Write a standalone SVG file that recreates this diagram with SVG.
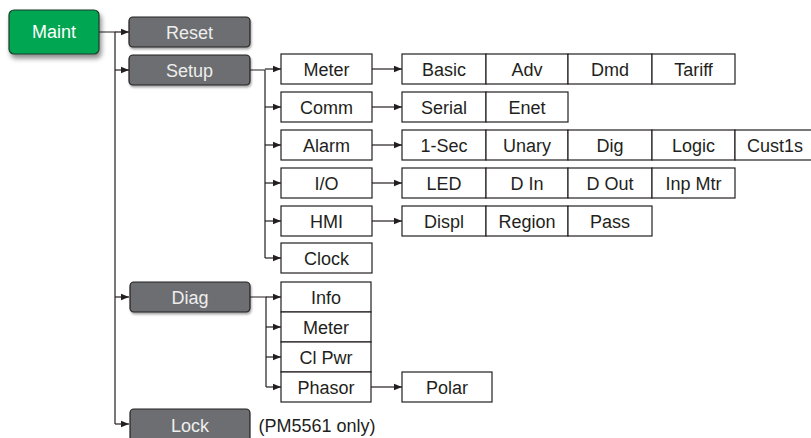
<svg xmlns="http://www.w3.org/2000/svg" width="811" height="438" viewBox="0 0 811 438">
<defs>
<marker id="ah" viewBox="0 0 8 8" refX="8" refY="4" markerWidth="8" markerHeight="8" markerUnits="userSpaceOnUse" orient="auto">
<path d="M0,0.8 L8,4 L0,7.2 Z" fill="#231f20"/>
</marker>
<filter id="sh" x="-20%" y="-20%" width="150%" height="160%">
<feGaussianBlur in="SourceAlpha" stdDeviation="2.5"/>
<feOffset dx="2" dy="4" result="b"/>
<feComponentTransfer><feFuncA type="linear" slope="0.45"/></feComponentTransfer>
<feMerge><feMergeNode/><feMergeNode in="SourceGraphic"/></feMerge>
</filter>
<filter id="sh2" x="-10%" y="-20%" width="130%" height="160%">
<feGaussianBlur in="SourceAlpha" stdDeviation="1.2"/>
<feOffset dx="1" dy="2"/>
<feComponentTransfer><feFuncA type="linear" slope="0.35"/></feComponentTransfer>
<feMerge><feMergeNode/><feMergeNode in="SourceGraphic"/></feMerge>
</filter>
</defs>
<style>
text{font-family:"Liberation Sans",Arial,sans-serif;font-size:18px;text-anchor:middle;fill:#231f20}
.w{fill:#ffffff}
.g{fill:#eeeeee}
.box{fill:#ffffff;stroke:#231f20;stroke-width:1.2}
.gray{fill:#6d6e71;stroke:#231f20;stroke-width:1.2}
.green{fill:#00a651;stroke:#1d3b2a;stroke-width:1.2}
.c{fill:none;stroke:#231f20;stroke-width:1.2}
.ca{fill:none;stroke:#231f20;stroke-width:1.2;marker-end:url(#ah)}
</style>
<rect width="811" height="438" fill="#ffffff"/>
<g id="connectors">
<path class="c" d="M99,32 H115 V424"/>
<path class="ca" d="M115,32 H129"/>
<path class="ca" d="M115,70 H129"/>
<path class="ca" d="M115,297 H129"/>
<path class="ca" d="M115,424 H129"/>
<path class="c" d="M250,70 H265 V258"/>
<path class="ca" d="M265,69 H281"/>
<path class="ca" d="M265,107 H281"/>
<path class="ca" d="M265,145 H281"/>
<path class="ca" d="M265,183 H281"/>
<path class="ca" d="M265,221 H281"/>
<path class="ca" d="M265,258 H281"/>
<path class="ca" d="M372,69 H402"/>
<path class="ca" d="M372,107 H402"/>
<path class="ca" d="M372,145 H402"/>
<path class="ca" d="M372,183 H402"/>
<path class="ca" d="M372,221 H402"/>
<path class="c" d="M250,297 H266 V387"/>
<path class="ca" d="M266,297 H281"/>
<path class="ca" d="M266,327 H281"/>
<path class="ca" d="M266,357 H281"/>
<path class="ca" d="M266,387 H281"/>
<path class="ca" d="M371,387 H402"/>
</g>
<g id="maint"><rect class="green" x="9" y="10" width="90" height="44" rx="5" filter="url(#sh)"/><text class="w" x="54" y="38">Maint</text></g>
<g id="reset"><rect class="gray" x="129" y="17" width="121" height="30" rx="4" filter="url(#sh2)"/><text class="g" x="189.5" y="39">Reset</text></g>
<g id="setup"><rect class="gray" x="129" y="55" width="121" height="30" rx="4" filter="url(#sh2)"/><text class="g" x="189.5" y="77">Setup</text></g>
<g id="diag"><rect class="gray" x="130" y="282" width="120" height="30" rx="4" filter="url(#sh2)"/><text class="g" x="190" y="304">Diag</text></g>
<g id="lock"><rect class="gray" x="130" y="409" width="120" height="34" rx="4"/><text class="g" x="190" y="432">Lock</text></g>
<g id="lock-note"><text x="317" y="432">(PM5561 only)</text></g>
<g id="s-meter"><rect class="box" x="281" y="54" width="91" height="30"/><text x="326.5" y="76">Meter</text></g>
<g id="s-comm"><rect class="box" x="281" y="92" width="91" height="30"/><text x="326.5" y="114">Comm</text></g>
<g id="s-alarm"><rect class="box" x="281" y="130" width="91" height="30"/><text x="326.5" y="152">Alarm</text></g>
<g id="s-io"><rect class="box" x="281" y="168" width="91" height="30"/><text x="326.5" y="190">I/O</text></g>
<g id="s-hmi"><rect class="box" x="281" y="206" width="91" height="30"/><text x="326.5" y="228">HMI</text></g>
<g id="s-clock"><rect class="box" x="281" y="243" width="91" height="30"/><text x="326.5" y="265">Clock</text></g>
<g id="meter-row">
<rect class="box" x="402" y="54" width="84" height="30"/><text x="444" y="76">Basic</text>
<rect class="box" x="486" y="54" width="82" height="30"/><text x="527" y="76">Adv</text>
<rect class="box" x="568" y="54" width="84" height="30"/><text x="610" y="76">Dmd</text>
<rect class="box" x="652" y="54" width="83" height="30"/><text x="693.5" y="76">Tariff</text>
</g>
<g id="comm-row">
<rect class="box" x="402" y="92" width="84" height="30"/><text x="444" y="114">Serial</text>
<rect class="box" x="486" y="92" width="82" height="30"/><text x="527" y="114">Enet</text>
</g>
<g id="alarm-row">
<rect class="box" x="402" y="130" width="84" height="30"/><text x="444" y="152">1-Sec</text>
<rect class="box" x="486" y="130" width="82" height="30"/><text x="527" y="152">Unary</text>
<rect class="box" x="568" y="130" width="84" height="30"/><text x="610" y="152">Dig</text>
<rect class="box" x="652" y="130" width="83" height="30"/><text x="693.5" y="152">Logic</text>
<rect class="box" x="735" y="130" width="83" height="30"/><text x="775" y="152">Cust1s</text>
</g>
<g id="io-row">
<rect class="box" x="402" y="168" width="84" height="30"/><text x="444" y="190">LED</text>
<rect class="box" x="486" y="168" width="82" height="30"/><text x="527" y="190">D In</text>
<rect class="box" x="568" y="168" width="84" height="30"/><text x="610" y="190">D Out</text>
<rect class="box" x="652" y="168" width="83" height="30"/><text x="693.5" y="190">Inp Mtr</text>
</g>
<g id="hmi-row">
<rect class="box" x="402" y="206" width="84" height="30"/><text x="444" y="228">Displ</text>
<rect class="box" x="486" y="206" width="82" height="30"/><text x="527" y="228">Region</text>
<rect class="box" x="568" y="206" width="84" height="30"/><text x="610" y="228">Pass</text>
</g>
<g id="d-info"><rect class="box" x="281" y="282" width="90" height="30"/><text x="326" y="304">Info</text></g>
<g id="d-meter"><rect class="box" x="281" y="312" width="90" height="30"/><text x="326" y="334">Meter</text></g>
<g id="d-clpwr"><rect class="box" x="281" y="342" width="90" height="30"/><text x="326" y="364">Cl Pwr</text></g>
<g id="d-phasor"><rect class="box" x="281" y="372" width="90" height="30"/><text x="326" y="394">Phasor</text></g>
<g id="d-polar"><rect class="box" x="402" y="372" width="90" height="30"/><text x="447" y="394">Polar</text></g>
</svg>
